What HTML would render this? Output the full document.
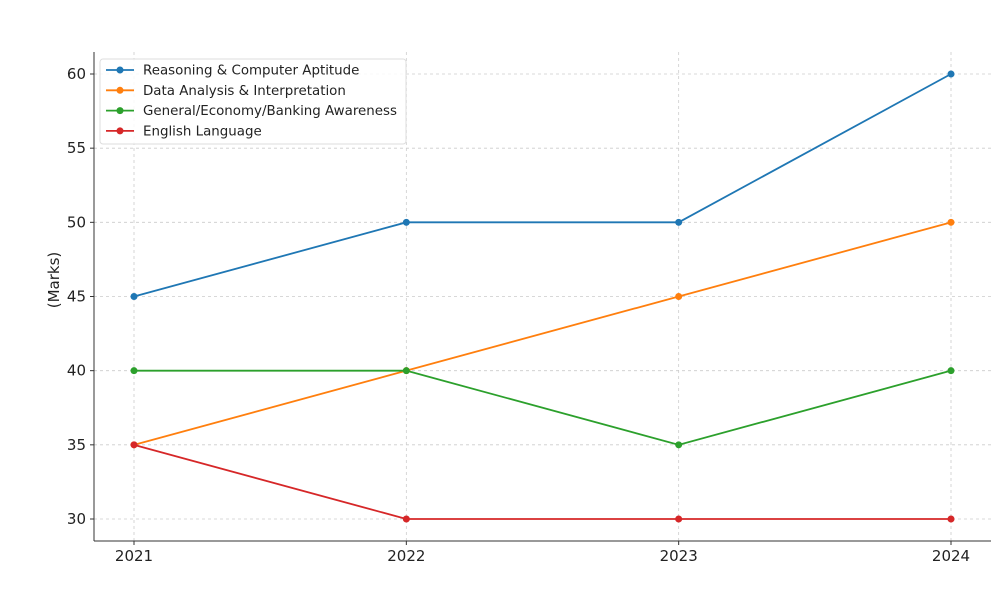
<!DOCTYPE html>
<html><head><meta charset="utf-8"><style>
body{margin:0;background:#fff;}
svg{display:block;font-family:"DejaVu Sans","Liberation Sans",sans-serif;}
</style></head><body>
<svg id="chart" width="1005" height="591"></svg>
<script>
const years = ["2021","2022","2023","2024"];
const reasoning = [45,50,50,60];
const dataAnalysis = [35,40,45,50];
const general = [40,40,35,40];
const english = [35,30,30,30];
const yTicks = [30,35,40,45,50,55,60];
const seriesNames = ["Reasoning & Computer Aptitude","Data Analysis & Interpretation","General/Economy/Banking Awareness","English Language"];
const colors = ["#1f77b4","#ff7f0e","#2ca02c","#d62728"];

const NS="http://www.w3.org/2000/svg";
const svg=document.getElementById('chart');
function mk(t,a,p){const e=document.createElementNS(NS,t);for(const k in a)e.setAttribute(k,a[k]);(p||svg).appendChild(e);return e;}
const x0=134,x1=951,yv0=30,yp0=519,yv1=60,yp1=74;
const xs=i=>x0+(x1-x0)*i/(years.length-1);
const ys=v=>yp0+(v-yv0)*(yp1-yp0)/(yv1-yv0);

const grid=mk('g',{});


years.forEach((y,i)=>{mk('line',{x1:xs(i),x2:xs(i),y1:52,y2:541,stroke:'#ccc','stroke-dasharray':'3,3','stroke-width':0.8},grid);});
yTicks.forEach(v=>{mk('line',{x1:94,x2:991,y1:ys(v),y2:ys(v),stroke:'#ccc','stroke-dasharray':'3,3','stroke-width':0.8},grid);});

const ax=mk('g',{});


mk('line',{x1:94,x2:94,y1:52,y2:541,stroke:'#333','stroke-width':1},ax);
mk('line',{x1:94,x2:991,y1:541,y2:541,stroke:'#333','stroke-width':1},ax);
years.forEach((y,i)=>{
  mk('line',{x1:xs(i),x2:xs(i),y1:541,y2:545,stroke:'#333'},ax);
  const t=mk('text',{x:xs(i),y:561,'text-anchor':'middle','font-size':15,fill:'#222'},ax);t.textContent=y;
  
  
});
yTicks.forEach(v=>{
  mk('line',{x1:90,x2:94,y1:ys(v),y2:ys(v),stroke:'#333'},ax);
  const t=mk('text',{x:86,y:ys(v)+5,'text-anchor':'end','font-size':15,fill:'#222'},ax);t.textContent=v;
  
  
});
const yl=mk('text',{x:0,y:0,transform:'translate(59,280) rotate(-90)','text-anchor':'middle','font-size':15,fill:'#222'});
yl.textContent='(Marks)';



[reasoning,dataAnalysis,general,english].forEach((d,si)=>{
  const g=mk('g',{});
  
  
  mk('polyline',{points:d.map((v,i)=>xs(i)+','+ys(v)).join(' '),fill:'none',stroke:colors[si],'stroke-width':1.8},g);
  d.forEach((v,i)=>{const c=mk('circle',{cx:xs(i),cy:ys(v),r:3.5,fill:colors[si]},g);
    
    });
});

const lg=mk('g',{});


mk('rect',{x:100,y:59,width:306,height:85,rx:3,fill:'#fff','fill-opacity':0.85,stroke:'#ddd'},lg);
seriesNames.forEach((n,i)=>{
  const y=70+i*20.3;
  const e=mk('g',{},lg);
  
  
  mk('line',{x1:106,x2:134,y1:y,y2:y,stroke:colors[i],'stroke-width':1.8},e);
  mk('circle',{cx:120,cy:y,r:3.5,fill:colors[i]},e);
  const t=mk('text',{x:143,y:y+4.5,'font-size':13.4,fill:'#222'},e);t.textContent=n;
});
</script>
</body></html>
